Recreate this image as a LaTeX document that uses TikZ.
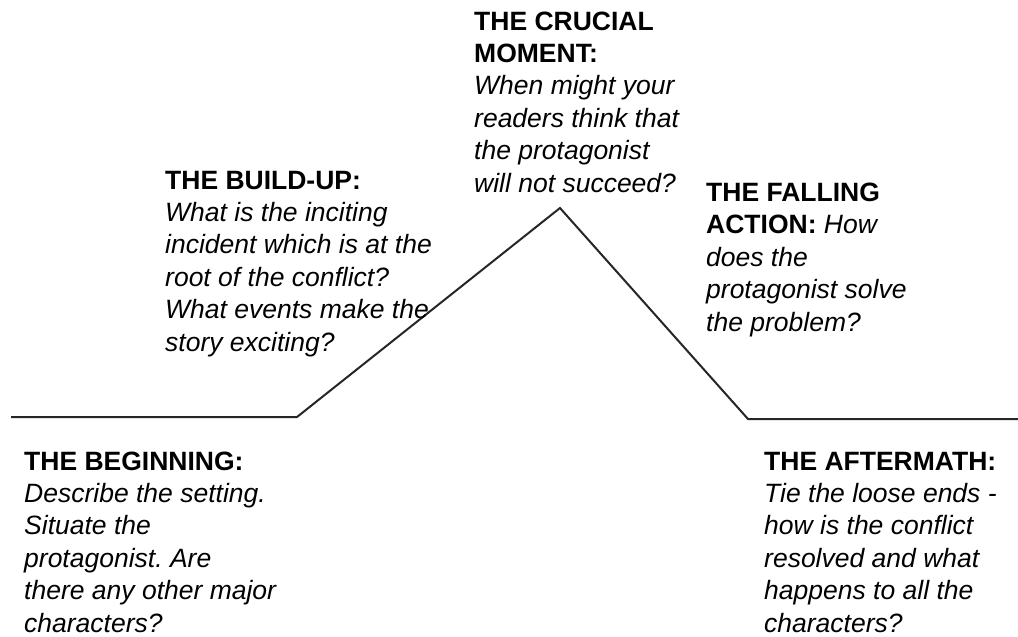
\documentclass[tikz,border=0pt]{standalone}
\usepackage{fontspec}
\setmainfont{Liberation Sans}
\usetikzlibrary{positioning}
\frenchspacing

\tikzset{
  plot line/.style={line width=2pt, black!85, line join=miter},
  % anchored on the baseline of the last line
  stage/.style={anchor=base west, inner sep=0pt, align=left,
    font=\fontsize{26.5}{32.4}\selectfont},
}
\newcommand{\hd}[1]{\textbf{#1}}
\newcommand{\qs}[1]{\textit{#1}}

\begin{document}
\begin{tikzpicture}[x=1pt, y=-1pt]
   \useasboundingbox (0,0) rectangle (1018,637);
   % corners of the story line
   \coordinate (start) at (11,417);
   \coordinate (rise) at (297,417);
   \coordinate (peak) at (560,208);
   \coordinate (fall) at (748,419);
   \coordinate (end) at (1018,419);
   \draw[plot line] (start) -- (rise) -- (peak) -- (fall) -- (end);

   \node[stage] (beginning) at (24,632)
     {\hd{THE BEGINNING:}\\ \qs{Describe the setting.}\\ \qs{Situate the}\\
      \qs{protagonist. Are}\\ \qs{there any other major}\\ \qs{characters?}};
   \node[stage] (buildup) at (165,351)
     {\hd{THE BUILD-UP:}\\ \qs{What is the inciting}\\ \qs{incident which is at the}\\
      \qs{root of the conflict?}\\ \qs{What events make the}\\ \qs{story exciting?}};
   \node[stage] (crucial) at (474,192)
     {\hd{THE CRUCIAL}\\ \hd{MOMENT:}\\ \qs{When might your}\\
      \qs{readers think that}\\ \qs{the protagonist}\\ \qs{will not succeed?}};
   \node[stage] (falling) at (706,331)
     {\hd{THE FALLING}\\ \hd{ACTION:} \qs{How}\\ \qs{does the}\\
      \qs{protagonist solve}\\ \qs{the problem?}};
   \node[stage] (aftermath) at (764,632)
     {\hd{THE AFTERMATH:}\\ \qs{Tie the loose ends -}\\ \qs{how is the conflict}\\
      \qs{resolved and what}\\ \qs{happens to all the}\\ \qs{characters?}};
\end{tikzpicture}
\end{document}
